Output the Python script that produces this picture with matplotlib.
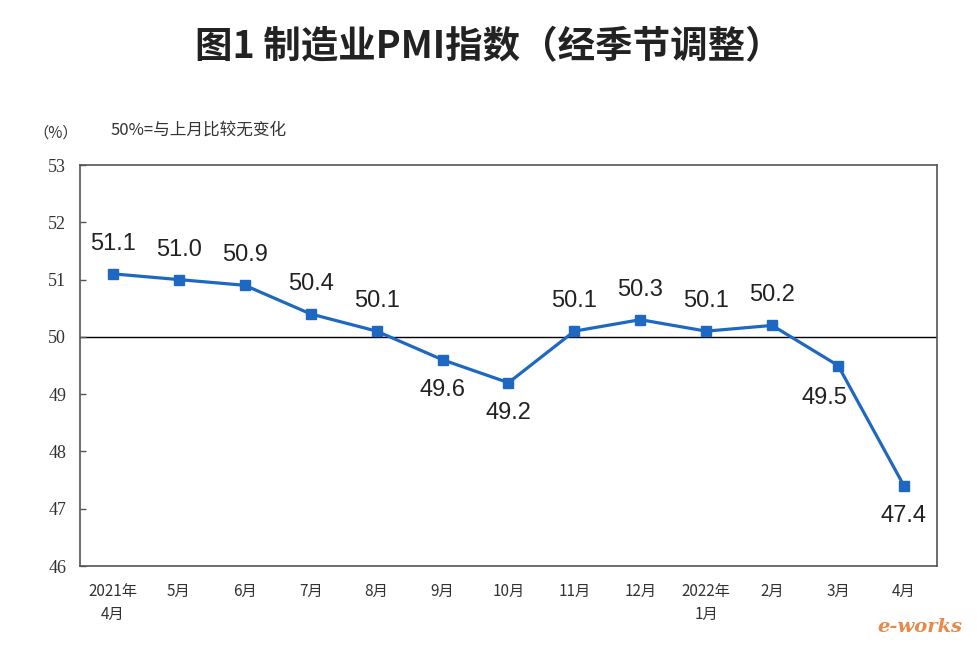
import matplotlib.pyplot as plt

plt.rcParams['font.family'] = ['Noto Sans CJK SC', 'DejaVu Sans']

months = ['2021年\n4月', '5月', '6月', '7月', '8月', '9月', '10月',
          '11月', '12月', '2022年\n1月', '2月', '3月', '4月']
pmi = [51.1, 51.0, 50.9, 50.4, 50.1, 49.6, 49.2, 50.1, 50.3, 50.1, 50.2, 49.5, 47.4]
# where each value label sits relative to its point
label_pos = ['above', 'above', 'above', 'above', 'above', 'below', 'below',
             'above', 'above', 'above', 'above', 'left', 'below']

fig = plt.figure(figsize=(9.77, 6.53), dpi=100)
ax = fig.add_axes([0.0819, 0.1332, 0.8771, 0.6141])

x = range(len(pmi))
ax.axhline(50, color='black', lw=1.0, zorder=1)
ax.plot(x, pmi, color='#1f68c2', lw=2.3, marker='s', markersize=6.5, zorder=3)

for i, (v, p) in enumerate(zip(pmi, label_pos)):
    if p == 'above':
        dx, dy = 0, 30
    elif p == 'below':
        dx, dy = 0, -30
    else:
        dx, dy = -14, -32
    ax.annotate(f'{v:.1f}', (i, v), xytext=(dx, dy), textcoords='offset pixels',
                ha='center', va='center', fontsize=17, family='Liberation Sans',
                color='#222222')

ax.set_xlim(-0.5, len(pmi) - 0.5)
ax.set_ylim(46, 53)
ax.set_yticks(range(46, 54))
ax.set_xticks(list(x))
ax.set_xticklabels(months, fontsize=11, linespacing=1.5)
ax.tick_params(axis='x', length=0, pad=12, colors='#333333')
ax.tick_params(axis='y', direction='in', length=4, width=1, pad=10, colors='#555555',
               labelcolor='#333333')
for lab in ax.get_yticklabels():
    lab.set_family('Liberation Serif')
    lab.set_fontsize(13)
for s in ax.spines.values():
    s.set_color('#555555')
    s.set_linewidth(1.2)

fig.text(0.5, 0.928, '图1 制造业PMI指数（经季节调整）', ha='center', va='center',
         fontsize=27, fontweight='bold', color='#222222')
fig.text(0.034, 0.796, '（%）', fontsize=11, color='#333333', va='center')
fig.text(0.113, 0.800, '50%=与上月比较无变化', fontsize=12, color='#333333', va='center')
fig.text(0.985, 0.04, 'e-works', fontsize=14, style='italic', fontweight='bold',
         color='#e8894a', ha='right', va='center', family='DejaVu Serif')

fig.savefig('out.png', dpi=100)
